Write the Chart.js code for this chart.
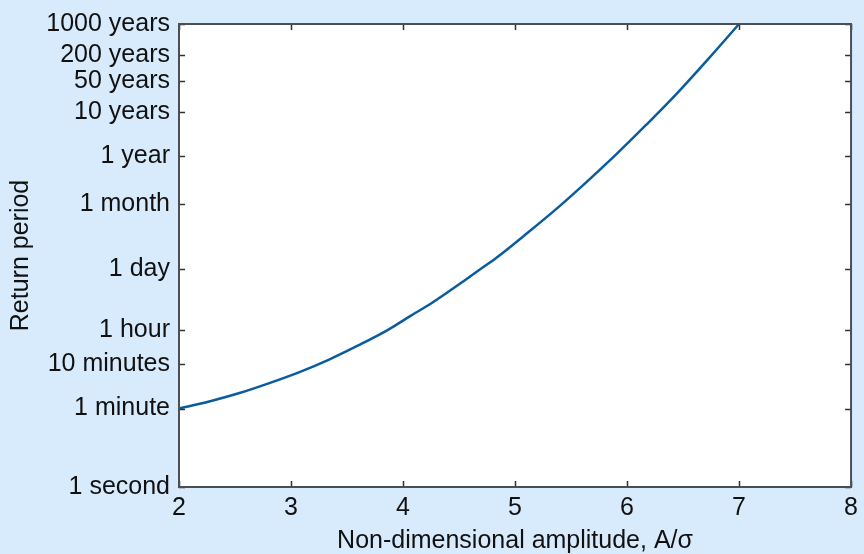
<!DOCTYPE html>
<html>
<head>
<meta charset="utf-8">
<title>Return period</title>
<script src="https://cdn.jsdelivr.net/npm/chart.js@4"></script>
<style>
  html, body { margin: 0; padding: 0; background: #d8ebfc; }
  #wrap { width: 864px; height: 554px; }
</style>
</head>
<body>
<div id="wrap"><canvas id="returnChart" width="864" height="554"></canvas></div>
<script>
// amplitude A/sigma
var amplitude = [2.0, 2.27, 2.54, 2.80, 3.07, 3.34, 3.60, 3.87, 4.06, 4.25,
                 4.52, 4.68, 4.84, 5.11, 5.38, 5.64, 5.91, 6.17, 6.44, 6.73, 7.0];
// return period in seconds
var returnPeriod = [60, 87, 135, 224, 398, 776, 1622, 3715, 7413, 14454,
                    42658, 83176, 162181, 575440, 2137962, 8317638, 36307805,
                    162181010, 812830516, 5248074602, 31557600000];

var yTickValues = [1, 60, 600, 3600, 86400, 2592000, 31557600, 315576000,
                   1577880000, 6311520000, 31557600000];
var yTickLabels = ['1 second', '1 minute', '10 minutes', '1 hour', '1 day', '1 month',
                   '1 year', '10 years', '50 years', '200 years', '1000 years'];
var xTickValues = [2, 3, 4, 5, 6, 7, 8];

var FONT = 'Liberation Sans, Arial, Helvetica, sans-serif';

// white plot area, box and inward ticks on all four sides (matlab style)
var boxPlugin = {
    id: 'box',
    beforeDraw: function (chart) {
        var a = chart.chartArea, ctx = chart.ctx;
        ctx.save();
        ctx.fillStyle = '#ffffff';
        ctx.fillRect(a.left, a.top, a.right - a.left, a.bottom - a.top);
        ctx.restore();
    },
    afterDraw: function (chart) {
        var a = chart.chartArea, ctx = chart.ctx;
        var xs = chart.scales.x, ys = chart.scales.y;
        var len = 6;
        ctx.save();
        ctx.strokeStyle = '#333333';
        ctx.lineWidth = 1.5;
        ctx.beginPath();
        xTickValues.forEach(function (v) {
            var px = Math.round(xs.getPixelForValue(v)) + 0.5;
            ctx.moveTo(px, a.bottom); ctx.lineTo(px, a.bottom - len);
            ctx.moveTo(px, a.top); ctx.lineTo(px, a.top + len);
        });
        yTickValues.forEach(function (v) {
            var py = Math.round(ys.getPixelForValue(v)) + 0.5;
            ctx.moveTo(a.left, py); ctx.lineTo(a.left + len, py);
            ctx.moveTo(a.right, py); ctx.lineTo(a.right - len, py);
        });
        ctx.stroke();
        ctx.strokeStyle = '#4a4f55';
        ctx.lineWidth = 2;
        ctx.strokeRect(a.left, a.top, a.right - a.left, a.bottom - a.top);
        ctx.restore();
    }
};

var ctx = document.getElementById('returnChart').getContext('2d');
var chart = new Chart(ctx, {
    type: 'scatter',
    data: {
        datasets: [{
            data: amplitude.map(function (a, i) { return { x: a, y: returnPeriod[i] }; }),
            showLine: true,
            borderColor: '#0b5c9e',
            borderWidth: 2.5,
            pointRadius: 0,
            cubicInterpolationMode: 'monotone',
            clip: false
        }]
    },
    options: {
        responsive: false,
        animation: false,
        layout: { padding: { top: 21, right: 7, left: 0, bottom: 0 } },
        plugins: { legend: { display: false }, tooltip: { enabled: false } },
        scales: {
            x: {
                type: 'linear',
                min: 2,
                max: 8,
                afterBuildTicks: function (axis) {
                    axis.ticks = xTickValues.map(function (v) { return { value: v }; });
                },
                afterFit: function (axis) { axis.height = 67; },
                grid: { display: false, drawTicks: false },
                border: { display: false },
                ticks: {
                    color: '#111111',
                    padding: 6,
                    font: { family: FONT, size: 25 },
                    maxRotation: 0
                },
                title: {
                    display: true,
                    text: 'Non-dimensional amplitude, A/σ',
                    color: '#111111',
                    font: { family: FONT, size: 25 },
                    padding: { top: 0, bottom: -2 }
                }
            },
            y: {
                type: 'logarithmic',
                min: 1,
                max: 31557600000,
                afterBuildTicks: function (axis) {
                    axis.ticks = yTickValues.map(function (v) { return { value: v }; });
                },
                afterFit: function (axis) { axis.width = 179; },
                grid: { display: false, drawTicks: false },
                border: { display: false },
                ticks: {
                    color: '#111111',
                    padding: 9,
                    autoSkip: false,
                    font: { family: FONT, size: 25 },
                    callback: function (value, index) { return yTickLabels[index]; }
                },
                title: {
                    display: true,
                    text: 'Return period',
                    color: '#111111',
                    font: { family: FONT, size: 25 },
                    padding: { top: 6, bottom: 0 }
                }
            }
        }
    },
    plugins: [boxPlugin]
});
</script>
</body>
</html>
